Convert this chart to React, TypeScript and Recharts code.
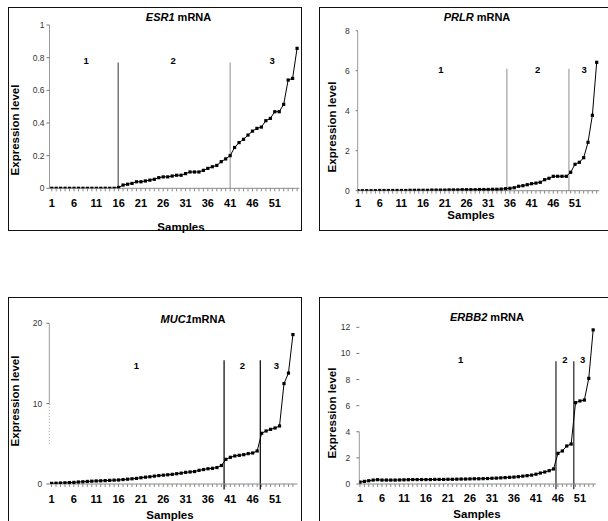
import React from 'react';
import { LineChart, Line, XAxis, YAxis, ReferenceLine, ReferenceDot } from 'recharts';

const FONT = '"Liberation Sans", Arial, Helvetica, sans-serif';

// ---------- data ----------
const xTickLabels = [1, 6, 11, 16, 21, 26, 31, 36, 41, 46, 51];
const groupNames = ['1', '2', '3'];

const esr1Values = [
  0, 0, 0, 0, 0, 0, 0, 0, 0, 0, 0, 0, 0, 0, 0,
  0.005, 0.02, 0.025, 0.03, 0.04, 0.04, 0.045, 0.05, 0.055, 0.065,
  0.07, 0.07, 0.075, 0.08, 0.08, 0.09, 0.1, 0.1, 0.1, 0.11,
  0.122, 0.132, 0.14, 0.163, 0.18, 0.2, 0.25, 0.28, 0.3, 0.326,
  0.35, 0.367, 0.375, 0.414, 0.428, 0.469, 0.469, 0.514, 0.663, 0.673, 0.857,
];
const prlrValues = [
  0, 0, 0, 0, 0, 0.01, 0.01, 0.01, 0.01, 0.01,
  0.01, 0.01, 0.02, 0.02, 0.02, 0.02, 0.02, 0.03, 0.03, 0.03,
  0.03, 0.04, 0.04, 0.04, 0.05, 0.05, 0.05, 0.05, 0.06, 0.06,
  0.06, 0.07, 0.07, 0.08, 0.1,
  0.12, 0.15, 0.22, 0.25, 0.3, 0.35, 0.38, 0.42, 0.55, 0.62,
  0.72, 0.72, 0.72, 0.72, 0.92, 1.32, 1.42, 1.65, 2.42, 3.77, 6.42,
];
const muc1Values = [
  0.08, 0.1, 0.12, 0.15, 0.18, 0.2, 0.25, 0.28, 0.32, 0.35,
  0.38, 0.4, 0.42, 0.45, 0.48, 0.5, 0.55, 0.6, 0.65, 0.7,
  0.78, 0.85, 0.9, 0.98, 1.05, 1.1, 1.15, 1.2, 1.28, 1.35,
  1.45, 1.5, 1.55, 1.7, 1.8, 1.9, 1.95, 2.05, 2.3,
  3.07, 3.32, 3.49, 3.57, 3.65, 3.78, 3.86, 4.11,
  6.31, 6.6, 6.8, 6.97, 7.22, 12.5, 13.8, 18.6,
];
const erbb2Values = [
  0.15, 0.2, 0.25, 0.3, 0.33, 0.3, 0.3, 0.3, 0.3, 0.31,
  0.32, 0.33, 0.34, 0.34, 0.34, 0.34, 0.34, 0.35, 0.35, 0.35,
  0.36, 0.36, 0.37, 0.38, 0.38, 0.39, 0.4, 0.4, 0.41, 0.42,
  0.44, 0.45, 0.47, 0.49, 0.51, 0.53, 0.56, 0.6, 0.64,
  0.68, 0.75, 0.84, 0.92, 1.02, 1.15,
  2.35, 2.53, 2.91, 3.06,
  6.23, 6.36, 6.43, 8.09, 11.8,
];

const esr1YTicks = [0, 0.2, 0.4, 0.6, 0.8, 1];
const prlrYTicks = [0, 2, 4, 6, 8];
const muc1YTicks = [0, 10, 20];
const erbb2YTicks = [0, 2, 4, 6, 8, 10, 12];

const esr1Dividers = [15.9, 41];
const prlrDividers = [35.3, 49.6];
const muc1Dividers = [39.6, 47.7];
const erbb2Dividers = [45.55, 49.6];

const esr1GroupX = [8.7, 28.2, 50.4];
const prlrGroupX = [20.1, 42.4, 53.1];
const muc1GroupX = [20, 43.7, 51.3];
const erbb2GroupX = [23.9, 47.6, 51.6];

// ---------- panel configs (layout/style) ----------
type Cfg = {
  gene: string; suffix: string; values: number[]; yTicks: number[]; yDomain: [number, number];
  xDomain: [number, number]; dividers: number[]; dividerTop: number; dividerBottom: number;
  dividerColors: string[]; groupX: number[]; groupY: number;
  box: { left: number; top: number; width: number; height: number };
  plot: { left: number; top: number; bottom: number; right: number };
  xLabelOffset: number; yTickSize: number; yTickMargin: number; yTickFont: number;
  axisSegments?: { y0: number; y1: number; dash?: string }[];
  title: [number, number]; samples: [number, number]; ylabel: [number, number];
};

const panels: Cfg[] = [
  {
    gene: 'ESR1', suffix: ' mRNA', values: esr1Values, yTicks: esr1YTicks, yDomain: [0, 1],
    xDomain: [0.5, 56.5], dividers: esr1Dividers, dividerTop: 0.77, dividerBottom: 0,
    dividerColors: ['#555', '#a0a0a0'], groupX: esr1GroupX, groupY: 0.78,
    box: { left: 8, top: 7, width: 294, height: 224 },
    plot: { left: 40.5, top: 17, bottom: 180.3, right: 290.3 },
    xLabelOffset: 14.7, yTickSize: 3, yTickMargin: 2, yTickFont: 8.5,
    title: [178.5, 17], samples: [181, 226.5], ylabel: [15, 130],
  },
  {
    gene: 'PRLR', suffix: ' mRNA', values: prlrValues, yTicks: prlrYTicks, yDomain: [0, 8],
    xDomain: [0.93, 56.6], dividers: prlrDividers, dividerTop: 6.1, dividerBottom: 0,
    dividerColors: ['#a0a0a0', '#a0a0a0'], groupX: prlrGroupX, groupY: 6.05,
    box: { left: 319, top: 7, width: 292, height: 224 },
    plot: { left: 37.7, top: 22.7, bottom: 182.7, right: 279.3 },
    xLabelOffset: 12, yTickSize: 2, yTickMargin: 6, yTickFont: 8.5,
    title: [477, 17], samples: [471, 215], ylabel: [331.7, 127],
  },
  {
    gene: 'MUC1', suffix: 'mRNA', values: muc1Values, yTicks: muc1YTicks, yDomain: [0, 20],
    xDomain: [0.5, 56], dividers: muc1Dividers, dividerTop: 15.4, dividerBottom: -0.7,
    dividerColors: ['#000', '#000'], groupX: muc1GroupX, groupY: 14.7,
    box: { left: 8, top: 297, width: 294, height: 232 },
    plot: { left: 40.3, top: 25.3, bottom: 186, right: 288.4 },
    xLabelOffset: 15.3, yTickSize: 3, yTickMargin: 4, yTickFont: 8.5,
    axisSegments: [{ y0: 10, y1: 20 }, { y0: 5, y1: 10, dash: '1 2' }],
    title: [193, 319], samples: [170, 515], ylabel: [15, 401],
  },
  {
    gene: 'ERBB2', suffix: ' mRNA', values: erbb2Values, yTicks: erbb2YTicks, yDomain: [0, 12],
    xDomain: [0.85, 54.6], dividers: erbb2Dividers, dividerTop: 9.4, dividerBottom: -0.4,
    dividerColors: ['#222', '#222'], groupX: erbb2GroupX, groupY: 9.55,
    box: { left: 319, top: 297, width: 292, height: 232 },
    plot: { left: 39.3, top: 29.3, bottom: 186, right: 275.8 },
    xLabelOffset: 14.3, yTickSize: 3, yTickMargin: 6, yTickFont: 8.5,
    axisSegments: [{ y0: 0, y1: 4 }],
    title: [487, 317], samples: [477, 513.5], ylabel: [331.7, 413],
  },
];

const renderDot = (p: any) => (
  <rect key={`d-${p.index}`} x={p.cx - 1.6} y={p.cy - 1.6} width={3.2} height={3.2} fill="#000" />
);

const makeXTick = () => (props: any) => {
  const { x, y, payload } = props;
  if (!xTickLabels.includes(payload.value)) return <g />;
  return (
    <text x={x} y={y} textAnchor="middle" dominantBaseline="central" fontSize={11}
      fontWeight="bold" fontFamily={FONT} fill="#000">
      {payload.value}
    </text>
  );
};

function Panel({ cfg }: { cfg: Cfg }) {
  const data = cfg.values.map((v, i) => ({ s: i + 1, v }));
  const allTicks = data.map((d) => d.s);
  const innerW = cfg.box.width - 2;
  const innerH = cfg.box.height - 2;
  const hasSegments = !!cfg.axisSegments;
  return (
    <>
      <div
        style={{
          position: 'absolute', left: cfg.box.left, top: cfg.box.top, width: cfg.box.width,
          height: cfg.box.height, border: '1px solid #111', boxSizing: 'border-box', background: '#fff',
        }}
      >
        <LineChart
          width={innerW}
          height={innerH}
          data={data}
          margin={{ top: cfg.plot.top, right: innerW - cfg.plot.right, bottom: 0, left: 0 }}
        >
          <XAxis
            type="number" dataKey="s" domain={cfg.xDomain} ticks={allTicks} interval={0}
            allowDataOverflow height={innerH - cfg.plot.bottom} tickSize={3}
            tickMargin={cfg.xLabelOffset - 3} tick={makeXTick()} stroke="#8a8a8a"
          />
          <YAxis
            type="number" domain={cfg.yDomain} ticks={cfg.yTicks} interval={0} allowDataOverflow
            width={cfg.plot.left} tickSize={cfg.yTickSize} tickMargin={cfg.yTickMargin}
            axisLine={hasSegments ? false : { stroke: '#9a9a9a' }} tickLine={{ stroke: '#777' }}
            tick={{ fontSize: cfg.yTickFont, fill: '#333', fontFamily: FONT }}
          />
          {(cfg.axisSegments || []).map((seg, i) => (
            <ReferenceLine
              key={`ax-${i}`}
              segment={[{ x: cfg.xDomain[0], y: seg.y0 }, { x: cfg.xDomain[0], y: seg.y1 }]}
              stroke="#9a9a9a" strokeWidth={1} strokeDasharray={seg.dash} ifOverflow="visible"
            />
          ))}
          {cfg.dividers.map((d, i) => (
            <ReferenceLine
              key={`dv-${i}`}
              segment={[{ x: d, y: cfg.dividerBottom }, { x: d, y: cfg.dividerTop }]}
              stroke={cfg.dividerColors[i]} strokeWidth={1.2} ifOverflow="visible"
            />
          ))}
          {groupNames.map((g, i) => (
            <ReferenceDot
              key={`g-${i}`}
              x={cfg.groupX[i]} y={cfg.groupY} r={0} ifOverflow="visible"
              shape={(p: any) => (
                <text x={p.cx} y={p.cy} textAnchor="middle" dominantBaseline="central" fontSize={9.5}
                  fontWeight="bold" fontFamily={FONT} fill="#000">
                  {g}
                </text>
              )}
            />
          ))}
          <Line
            type="linear" dataKey="v" stroke="#000" strokeWidth={1} dot={renderDot}
            activeDot={false} isAnimationActive={false}
          />
        </LineChart>
      </div>
      <div
        style={{
          position: 'absolute', left: cfg.title[0], top: cfg.title[1], transform: 'translate(-50%, -50%)',
          fontFamily: FONT, fontSize: 11, fontWeight: 'bold', whiteSpace: 'nowrap', color: '#000',
        }}
      >
        <i>{cfg.gene}</i>
        {cfg.suffix}
      </div>
      <div
        style={{
          position: 'absolute', left: cfg.samples[0], top: cfg.samples[1], transform: 'translate(-50%, -50%)',
          fontFamily: FONT, fontSize: 11.5, fontWeight: 'bold', whiteSpace: 'nowrap', color: '#000',
        }}
      >
        Samples
      </div>
      <div
        style={{
          position: 'absolute', left: cfg.ylabel[0], top: cfg.ylabel[1],
          transform: 'translate(-50%, -50%) rotate(-90deg)',
          fontFamily: FONT, fontSize: 11.5, fontWeight: 'bold', whiteSpace: 'nowrap', color: '#000',
        }}
      >
        Expression level
      </div>
    </>
  );
}

export default function App() {
  return (
    <div
      style={{
        position: 'fixed', left: 0, top: 0, width: 608, height: 521, overflow: 'hidden', background: '#fff',
      }}
    >
      {panels.map((cfg, i) => (
        <Panel key={i} cfg={cfg} />
      ))}
    </div>
  );
}
